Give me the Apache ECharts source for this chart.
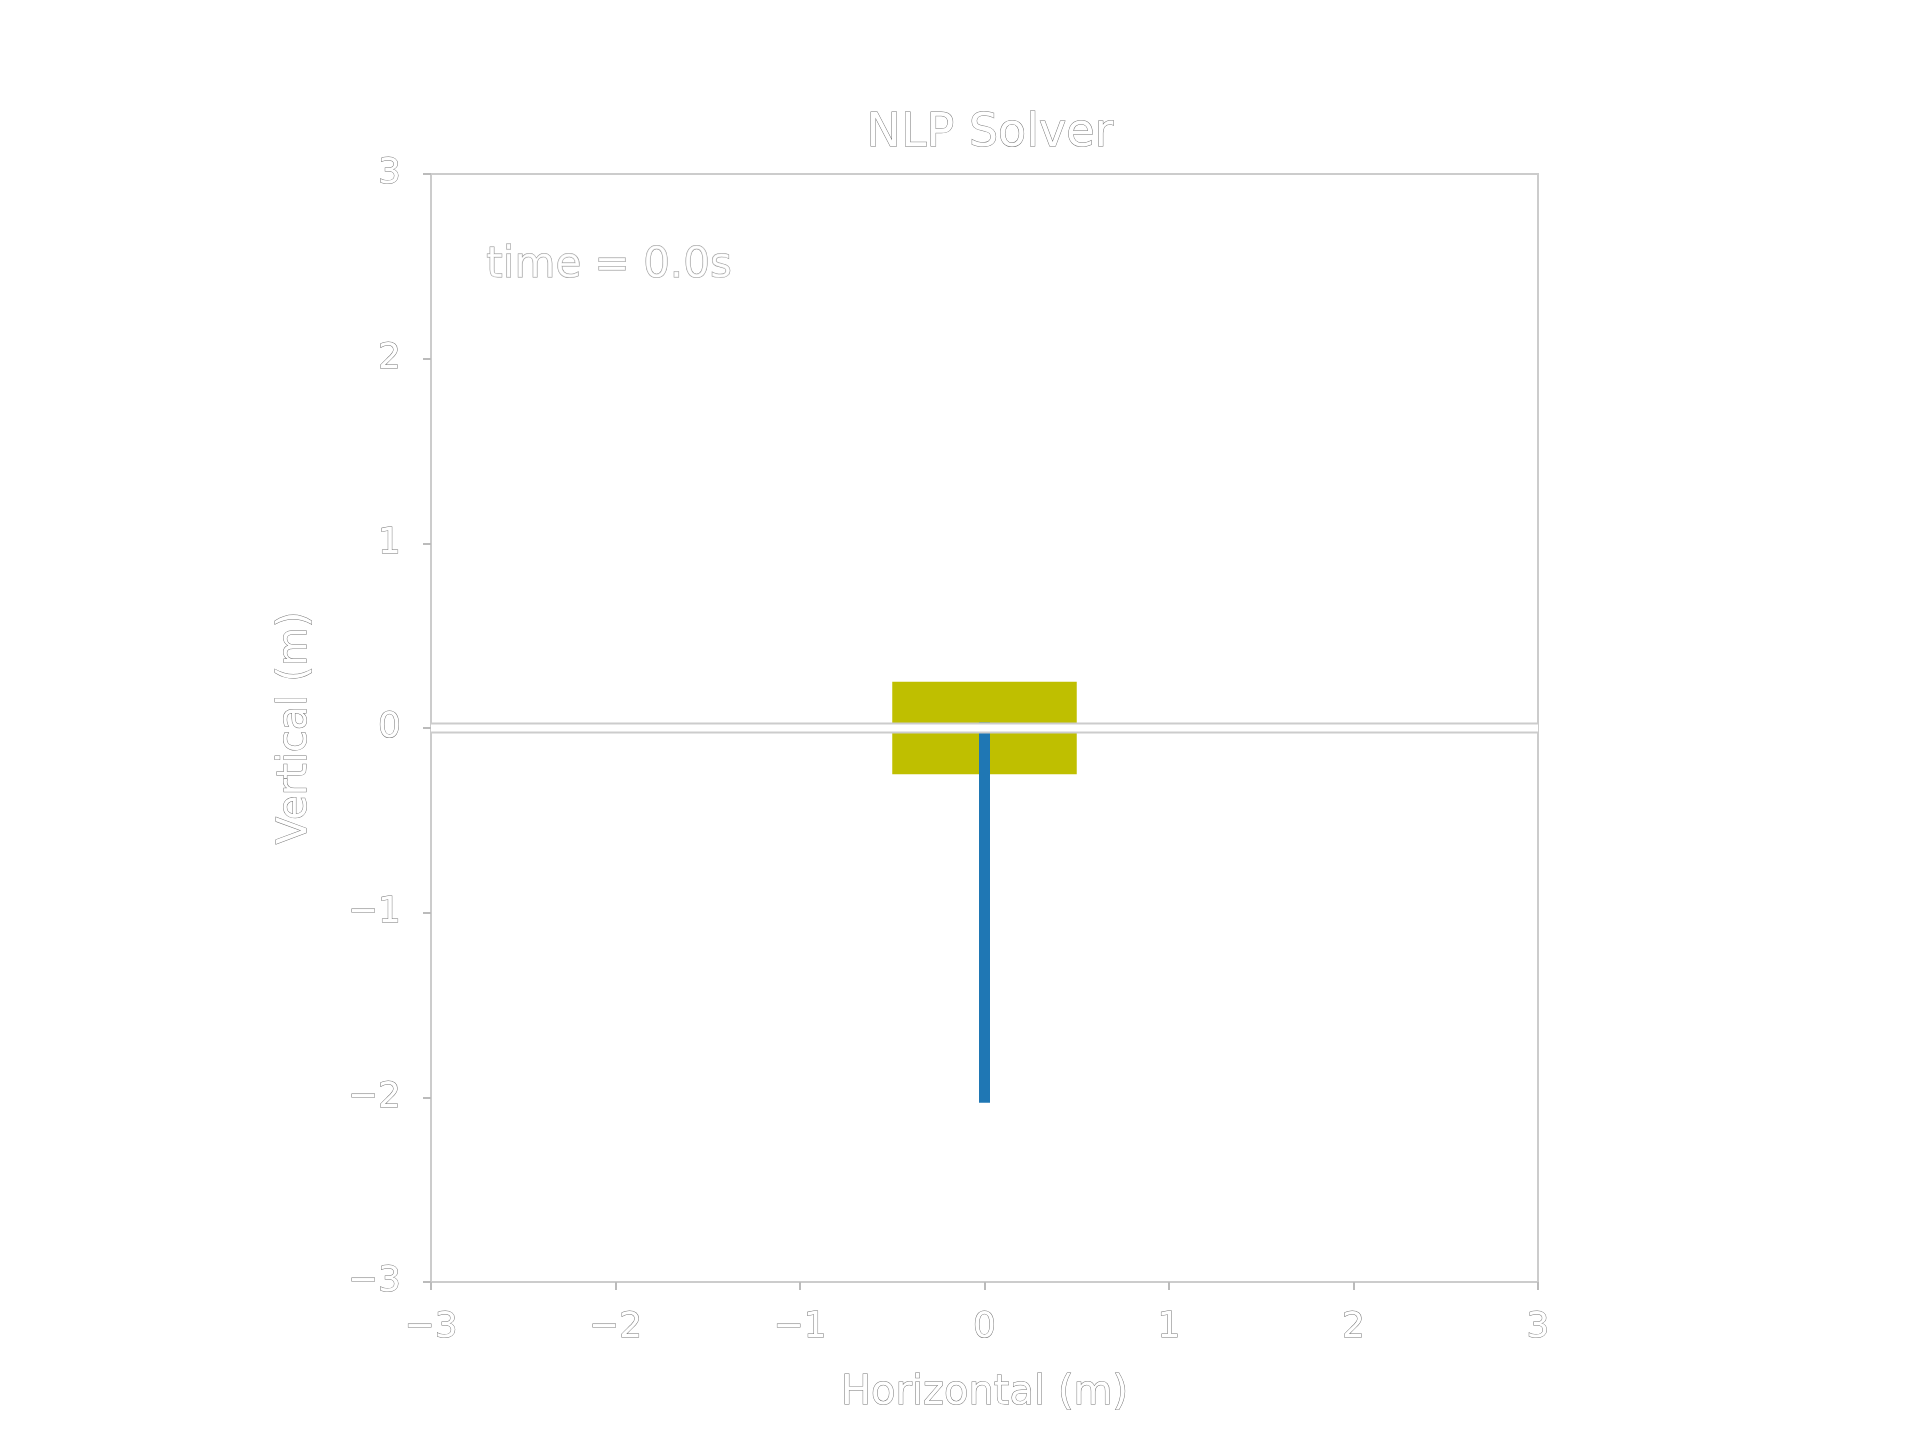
<!DOCTYPE html>
<html>
<head>
<meta charset="utf-8">
<script src="https://cdn.jsdelivr.net/npm/echarts@6/dist/echarts.min.js"></script>
<style>html,body{margin:0;padding:0;background:#fff}#chart{width:1920px;height:1440px}</style>
</head>
<body>
<div id="chart"></div>
<script>
var xTicks = [-3, -2, -1, 0, 1, 2, 3],
    yTicks = [-3, -2, -1, 0, 1, 2, 3],
    cartBox = [[-0.5, 0.5, -0.25, 0.25]],   // xmin, xmax, ymin, ymax
    polePoints = [[0, 0.03], [0, -2.03]],
    groundLine = [[-3, 0], [3, 0]],
    timeLabel = [[-2.7, 2.5, 'time = 0.0s']];

var outline = { color: '#fff', textBorderColor: '#777', textBorderWidth: 1, fontFamily: 'DejaVu Sans ExtraLight, DejaVu Sans' };
var fmt = function (v) { return String(v).replace('-', '\u2212'); };

var chart = echarts.init(document.getElementById('chart'));

var axisCommon = function (pos, margin) {
    return {
        type: 'value', min: -3, max: 3, interval: 1, position: pos,
        axisLine: { show: true, onZero: false, lineStyle: { color: '#ccc', width: 2 } },
        axisTick: { show: true, length: 8, lineStyle: { color: '#bbb', width: 2 } },
        splitLine: { show: false },
        axisLabel: Object.assign({ fontSize: 36, formatter: fmt, margin: margin }, outline)
    };
};

var xAxis = axisCommon('bottom', 28);
xAxis.name = 'Horizontal (m)';
xAxis.nameLocation = 'middle';
xAxis.nameGap = 92;
xAxis.nameTextStyle = Object.assign({ fontSize: 40 }, outline);
var yAxis = axisCommon('left', 30);
yAxis.name = 'Vertical (m)';
yAxis.nameLocation = 'middle';
yAxis.nameGap = 115;
yAxis.nameTextStyle = Object.assign({ fontSize: 40 }, outline);

var frameAxis = { type: 'value', min: -3, max: 3, axisLine: { show: true, onZero: false, lineStyle: { color: '#ccc', width: 2 } }, axisTick: { show: false }, axisLabel: { show: false }, splitLine: { show: false } };

chart.setOption({
    animation: false,
    title: {
        text: 'NLP Solver', left: 985, top: 106, textAlign: 'center',
        textStyle: Object.assign({ fontSize: 46, fontWeight: 'normal' }, outline)
    },
    grid: { left: 431, top: 174, width: 1107, height: 1108, show: true, borderColor: '#ccc', borderWidth: 2 },
    xAxis: [xAxis, Object.assign({ position: 'top' }, frameAxis)],
    yAxis: [yAxis, Object.assign({ position: 'right' }, frameAxis)],
    series: [
        {
            type: 'custom', data: cartBox, z: 2,
            renderItem: function (params, api) {
                var p0 = api.coord([api.value(0), api.value(3)]);
                var p1 = api.coord([api.value(1), api.value(2)]);
                return { type: 'rect', shape: { x: p0[0], y: p0[1], width: p1[0] - p0[0], height: p1[1] - p0[1] }, style: { fill: '#bfbf00' } };
            }
        },
        {
            type: 'line', data: polePoints, z: 3, symbol: 'none',
            lineStyle: { color: '#1f77b4', width: 11, cap: 'butt' }
        },
        {
            type: 'line', data: groundLine, z: 4, symbol: 'none',
            lineStyle: { color: '#ccc', width: 11 }
        },
        {
            type: 'line', data: groundLine, z: 5, symbol: 'none',
            lineStyle: { color: '#fff', width: 7 }
        },
        {
            type: 'scatter', data: timeLabel, symbolSize: 0, z: 6,
            label: Object.assign({ show: true, position: 'right', distance: 0, fontSize: 42, formatter: function (p) { return p.data[2]; } }, outline)
        }
    ]
});
</script>
</body>
</html>
